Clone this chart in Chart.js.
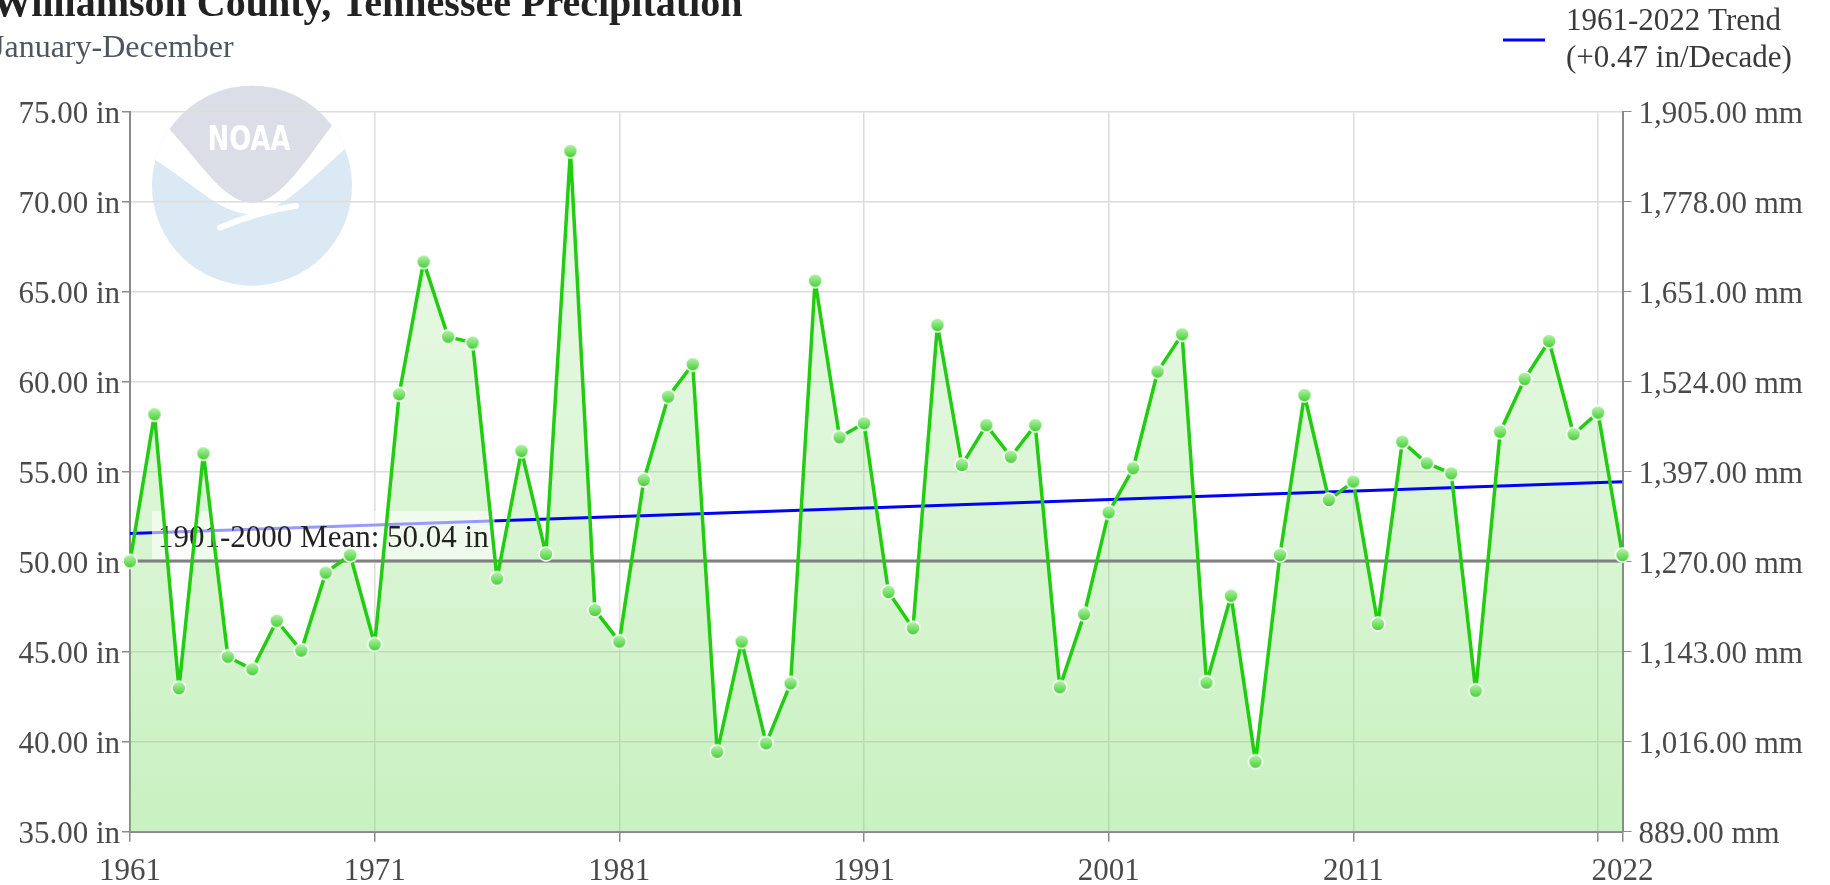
<!DOCTYPE html>
<html>
<head>
<meta charset="utf-8">
<title>Williamson County, Tennessee Precipitation</title>
<script src="https://cdn.jsdelivr.net/npm/chart.js@4.4.1/dist/chart.umd.min.js"></script>
<style>
  html, body { margin: 0; padding: 0; background: #fff; overflow: hidden; }
  #wrap { position: relative; width: 1830px; height: 885px; }
</style>
</head>
<body>
<div id="wrap"><canvas id="precipChart"></canvas></div>
<script>
// annual precipitation (inches), January-December
const years = [
  1961, 1962, 1963, 1964, 1965, 1966, 1967, 1968, 1969, 1970,
  1971, 1972, 1973, 1974, 1975, 1976, 1977, 1978, 1979, 1980,
  1981, 1982, 1983, 1984, 1985, 1986, 1987, 1988, 1989, 1990,
  1991, 1992, 1993, 1994, 1995, 1996, 1997, 1998, 1999, 2000,
  2001, 2002, 2003, 2004, 2005, 2006, 2007, 2008, 2009, 2010,
  2011, 2012, 2013, 2014, 2015, 2016, 2017, 2018, 2019, 2020,
  2021, 2022
];
const precip = [
  50.02, 58.19, 42.97, 56.02, 44.72, 44.02, 46.72, 45.06, 49.39, 50.37,
  45.41, 59.30, 66.67, 62.50, 62.17, 49.06, 56.15, 50.43, 72.82, 47.32,
  45.56, 54.54, 59.17, 60.97, 39.44, 45.56, 39.91, 43.24, 65.61, 56.91,
  57.69, 48.32, 46.30, 63.15, 55.37, 57.59, 55.83, 57.59, 43.02, 47.09,
  52.74, 55.19, 60.56, 62.63, 43.28, 48.11, 38.89, 50.37, 59.26, 53.43,
  54.45, 46.54, 56.67, 55.47, 54.91, 42.83, 57.22, 60.15, 62.26, 57.08,
  58.28, 50.37
];

// 1901-2000 mean and the 1961-2022 linear trend
const meanValue = 50.04;
const trendStart = 51.57;
const trendPerDecade = 0.47;

// axis ticks
const inchTicks = [35, 40, 45, 50, 55, 60, 65, 70, 75];
const mmTicks = inchTicks.map(v => v * 25.4);
const yearTicks = [1961, 1971, 1981, 1991, 2001, 2011, 2021, 2022];
const hiddenYearLabels = [2021];

const firstYear = years[0];
const lastYear = years[years.length - 1];
const SERIF = "'Liberation Serif', 'Times New Roman', serif";

// round marker with a white rim
function makeMarker() {
  const c = document.createElement('canvas');
  c.width = 20; c.height = 20;
  const g = c.getContext('2d');
  const grad = g.createLinearGradient(0, 3, 0, 17);
  grad.addColorStop(0, '#b8f4ad');
  grad.addColorStop(1, '#3fcf2f');
  g.beginPath();
  g.arc(10, 10, 7, 0, Math.PI * 2);
  g.fillStyle = grad;
  g.fill();
  g.lineWidth = 1.5;
  g.strokeStyle = '#ffffff';
  g.stroke();
  return c;
}

// NOAA watermark behind the plot
function drawLogo(ctx, cx, cy, r) {
  ctx.save();
  ctx.beginPath();
  ctx.arc(cx, cy, r, 0, Math.PI * 2);
  ctx.fillStyle = '#dbe9f5';
  ctx.fill();
  ctx.clip();

  // white wings
  ctx.beginPath();
  ctx.moveTo(cx - r - 4, cy - 30);
  ctx.bezierCurveTo(cx - 60, cy - 5, cx - 30, cy + 32, cx + 2, cy + 28);
  ctx.bezierCurveTo(cx + 35, cy + 24, cx + 65, cy - 14, cx + r + 4, cy - 46);
  ctx.lineTo(cx + r + 4, cy - r - 4);
  ctx.lineTo(cx - r - 4, cy - r - 4);
  ctx.closePath();
  ctx.fillStyle = '#ffffff';
  ctx.fill();

  // upper grey field
  ctx.beginPath();
  ctx.moveTo(cx - r - 4, cy - 58);
  ctx.lineTo(cx - 84, cy - 58);
  ctx.bezierCurveTo(cx - 50, cy - 22, cx - 28, cy + 18, cx + 2, cy + 17);
  ctx.bezierCurveTo(cx + 30, cy + 15, cx + 55, cy - 28, cx + 80, cy - 60);
  ctx.lineTo(cx + r + 4, cy - 60);
  ctx.lineTo(cx + r + 4, cy - r - 4);
  ctx.lineTo(cx - r - 4, cy - r - 4);
  ctx.closePath();
  ctx.fillStyle = '#dcdee7';
  ctx.fill();

  // tail
  ctx.beginPath();
  ctx.moveTo(cx - 32, cy + 42);
  ctx.quadraticCurveTo(cx + 5, cy + 26, cx + 44, cy + 20);
  ctx.lineWidth = 6;
  ctx.lineCap = 'round';
  ctx.strokeStyle = '#ffffff';
  ctx.stroke();

  // lettering
  ctx.translate(cx - 3, cy - 45);
  ctx.scale(0.76, 1);
  ctx.font = "bold 34px 'DejaVu Sans', sans-serif";
  ctx.textAlign = 'center';
  ctx.textBaseline = 'middle';
  ctx.fillStyle = '#ffffff';
  ctx.fillText('NOAA', 0, 0);
  ctx.restore();
}

const backdrop = {
  id: 'backdrop',
  beforeDraw(chart) {
    const { ctx, width, height, chartArea } = chart;
    ctx.save();
    ctx.fillStyle = '#ffffff';
    ctx.fillRect(0, 0, width, height);
    ctx.restore();
    drawLogo(ctx, chartArea.left + 122, chartArea.top + 74, 100);
  }
};

// label for the 1901-2000 mean, laid over the trend line
const meanLabel = {
  id: 'meanLabel',
  afterDatasetDraw(chart, args) {
    if (args.index !== 1) return;
    const { ctx, chartArea } = chart;
    const y = chart.scales.y.getPixelForValue(meanValue);
    const text = '1901-2000 Mean: ' + meanValue.toFixed(2) + ' in';
    ctx.save();
    ctx.font = '31px ' + SERIF;
    const w = ctx.measureText(text).width;
    ctx.fillStyle = 'rgba(255,255,255,0.6)';
    ctx.fillRect(chartArea.left + 22, y - 50, w + 12, 48);
    ctx.fillStyle = '#222222';
    ctx.textBaseline = 'alphabetic';
    ctx.fillText(text, chartArea.left + 28, y - 14);
    ctx.restore();
  }
};

// two-line legend entry for the trend, top right
const trendLegend = {
  id: 'trendLegend',
  afterDraw(chart) {
    const ds = chart.data.datasets[1];
    const { ctx, width } = chart;
    const x0 = width - 327;
    ctx.save();
    ctx.strokeStyle = ds.borderColor;
    ctx.lineWidth = 3;
    ctx.beginPath();
    ctx.moveTo(x0, 40);
    ctx.lineTo(x0 + 42, 40);
    ctx.stroke();
    ctx.font = '31px ' + SERIF;
    ctx.fillStyle = '#3a3a3a';
    ctx.textBaseline = 'alphabetic';
    ds.label.forEach((line, i) => ctx.fillText(line, x0 + 63, 30 + i * 37));
    ctx.restore();
  }
};

const trendEnd = trendStart + trendPerDecade * (lastYear - firstYear) / 10;

const tickFont = { family: SERIF, size: 31 };
const tickColor = '#4a4a4a';

new Chart(document.getElementById('precipChart'), {
  type: 'line',
  data: {
    datasets: [
      {
        label: 'Precipitation',
        data: years.map((yr, i) => ({ x: yr, y: precip[i] })),
        borderColor: '#22cc11',
        borderWidth: 3.5,
        borderJoinStyle: 'round',
        pointStyle: makeMarker(),
        pointRadius: 7,
        fill: 'start',
        clip: 10,
        backgroundColor: ctx => {
          const area = ctx.chart.chartArea;
          if (!area) return 'rgba(120,220,100,0.3)';
          const g = ctx.chart.ctx.createLinearGradient(0, area.top, 0, area.bottom);
          g.addColorStop(0, 'rgba(120,220,100,0.12)');
          g.addColorStop(1, 'rgba(120,220,100,0.4)');
          return g;
        }
      },
      {
        label: [firstYear + '-' + lastYear + ' Trend', '(+' + trendPerDecade.toFixed(2) + ' in/Decade)'],
        data: [{ x: firstYear, y: trendStart }, { x: lastYear, y: trendEnd }],
        borderColor: '#0000ff',
        borderWidth: 3,
        pointRadius: 0,
        fill: false
      },
      {
        label: '1901-2000 Mean',
        data: [{ x: firstYear, y: meanValue }, { x: lastYear, y: meanValue }],
        borderColor: '#808080',
        borderWidth: 3,
        pointRadius: 0,
        fill: false
      }
    ]
  },
  options: {
    responsive: true,
    maintainAspectRatio: false,
    animation: false,
    events: [],
    layout: { padding: { top: -18.5, left: -8, right: 0, bottom: 0 } },
    plugins: {
      legend: { display: false },
      tooltip: { enabled: false },
      filler: { drawTime: 'beforeDatasetsDraw' },
      title: {
        display: true,
        text: 'Williamson County, Tennessee Precipitation',
        align: 'start',
        color: '#222222',
        font: { family: SERIF, size: 40, weight: 'bold' },
        padding: 0
      },
      subtitle: {
        display: true,
        text: 'January-December',
        align: 'start',
        color: '#4f5560',
        font: { family: SERIF, size: 32 },
        padding: { top: 0, bottom: 43.8 }
      }
    },
    scales: {
      x: {
        type: 'linear',
        min: firstYear,
        max: lastYear,
        afterBuildTicks: s => { s.ticks = yearTicks.map(v => ({ value: v })); },
        afterFit: s => { s.height = 53.3; },
        grid: { color: '#dcdcdc', lineWidth: 1.5, tickColor: '#8a8a8a', tickLength: 10 },
        border: { color: '#8a8a8a', width: 2 },
        ticks: {
          autoSkip: false,
          maxRotation: 0,
          padding: 11.5,
          color: tickColor,
          font: tickFont,
          callback: v => hiddenYearLabels.includes(v) ? '' : String(v)
        }
      },
      y: {
        position: 'left',
        min: inchTicks[0],
        max: inchTicks[inchTicks.length - 1],
        afterBuildTicks: s => { s.ticks = inchTicks.map(v => ({ value: v })); },
        afterFit: s => { s.width = 138; },
        grid: { color: '#dcdcdc', lineWidth: 1.5, tickColor: '#8a8a8a', tickLength: 8 },
        border: { color: '#8a8a8a', width: 2 },
        ticks: {
          padding: 2,
          labelOffset: 3,
          color: tickColor,
          font: tickFont,
          callback: v => v.toFixed(2) + ' in'
        }
      },
      y2: {
        position: 'right',
        min: mmTicks[0],
        max: mmTicks[mmTicks.length - 1],
        afterBuildTicks: s => { s.ticks = mmTicks.map(v => ({ value: v })); },
        afterFit: s => { s.width = 207.5; },
        grid: { drawOnChartArea: false, tickColor: '#8a8a8a', tickLength: 9 },
        border: { color: '#8a8a8a', width: 2 },
        ticks: {
          padding: 7,
          labelOffset: 3,
          color: tickColor,
          font: tickFont,
          callback: v => v.toLocaleString('en-US', { minimumFractionDigits: 2, maximumFractionDigits: 2 }) + ' mm'
        }
      }
    }
  },
  plugins: [backdrop, meanLabel, trendLegend]
});
</script>
</body>
</html>
